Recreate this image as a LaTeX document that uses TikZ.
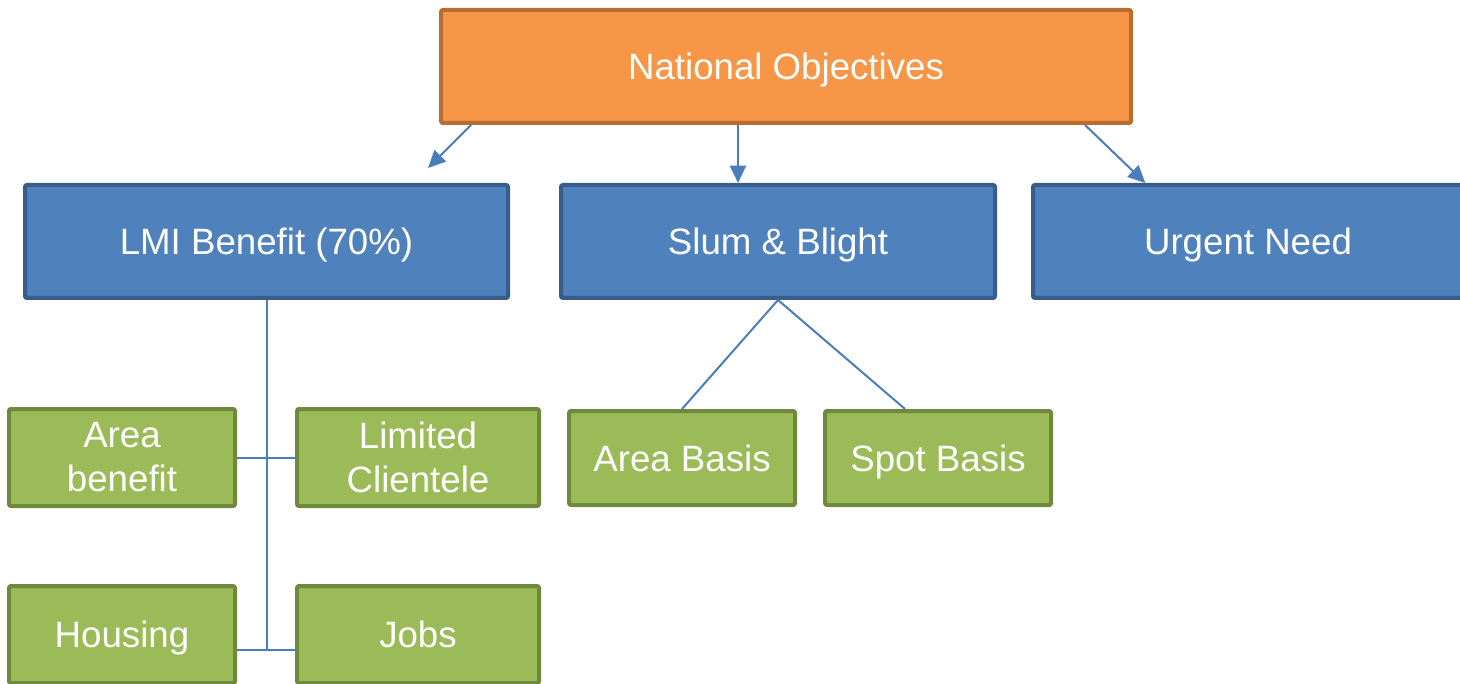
\documentclass[tikz,border=0pt]{standalone}
\usepackage{fontspec}
\setmainfont{Liberation Sans}
\usetikzlibrary{arrows.meta}

\definecolor{natfill}{HTML}{F79646}
\definecolor{natline}{HTML}{B66D31}
\definecolor{objfill}{HTML}{4F81BD}
\definecolor{objline}{HTML}{385D8A}
\definecolor{subfill}{HTML}{9BBB59}
\definecolor{subline}{HTML}{71893F}
\definecolor{linkcol}{HTML}{4A7EBB}

\tikzset{
  box/.style={draw, line width=3pt, rounded corners=1.5pt, text=white, align=center,
    font=\fontsize{27.5}{33}\selectfont, inner sep=0pt},
  oneline/.style={text height=19.7pt, text depth=0pt},
  natbox/.style={box, oneline, fill=natfill, draw=natline},
  objbox/.style={box, oneline, fill=objfill, draw=objline, minimum height=84.75pt},
  subbox/.style={box, fill=subfill, draw=subline},
  arr/.style={draw=linkcol, line width=1.5pt, -{Triangle[length=13pt,width=12pt]}},
  link/.style={draw=linkcol, line width=1.5pt}
}

\begin{document}
\begin{tikzpicture}[x=0.75pt,y=0.75pt,yscale=-1,xscale=1]
\useasboundingbox (0,0) rectangle (1460,684);

% top level
\node[natbox, minimum width=517.5pt, minimum height=84.75pt] (nat) at (786,66.5) {National Objectives};

% objectives
\node[objbox, minimum width=362.25pt] (lmi) at (266.5,241.5) {LMI Benefit (70\%)};
\node[objbox, minimum width=325.5pt] (slum) at (778,241.5) {Slum \& Blight};
\node[objbox, minimum width=322.5pt] (urg) at (1248,241.5) {Urgent Need};

% LMI sub boxes
\node[subbox, minimum width=169.5pt, minimum height=72.75pt] (areaben) at (122,457.5) {Area\\benefit};
\node[subbox, minimum width=181.5pt, minimum height=72.75pt] (limcl) at (418,457.5) {Limited\\Clientele};
\node[subbox, oneline, minimum width=169.5pt, minimum height=72.75pt] (hous) at (122,634.5) {Housing};
\node[subbox, oneline, minimum width=181.5pt, minimum height=72.75pt] (jobs) at (418,634.5) {Jobs};

% slum sub boxes
\node[subbox, oneline, minimum width=169.5pt, minimum height=70.5pt] (areab) at (682,458) {Area Basis};
\node[subbox, oneline, minimum width=169.5pt, minimum height=70.5pt] (spotb) at (938,458) {Spot Basis};

% arrows
\coordinate (lmitip) at (428,168);
\draw[arr] ([xshift=24pt]nat.south west) -- (lmitip);
\draw[arr] ([xshift=-36pt]nat.south) -- ([xshift=-30pt]slum.north);
\draw[arr] ([xshift=-36pt]nat.south east) -- ([xshift=-77pt]urg.north);

% tree lines
\coordinate (housjoin) at ([yshift=11.6pt]hous.east);
\coordinate (jobsjoin) at ([yshift=11.6pt]jobs.west);
\draw[link] (lmi.south) -- (lmi.south |- housjoin);
\draw[link] (areaben.east) -- (limcl.west);
\draw[link] (housjoin) -- (jobsjoin);
\draw[link] (slum.south) -- (areab.north);
\draw[link] (slum.south) -- ([xshift=-24.75pt]spotb.north);
\end{tikzpicture}
\end{document}
